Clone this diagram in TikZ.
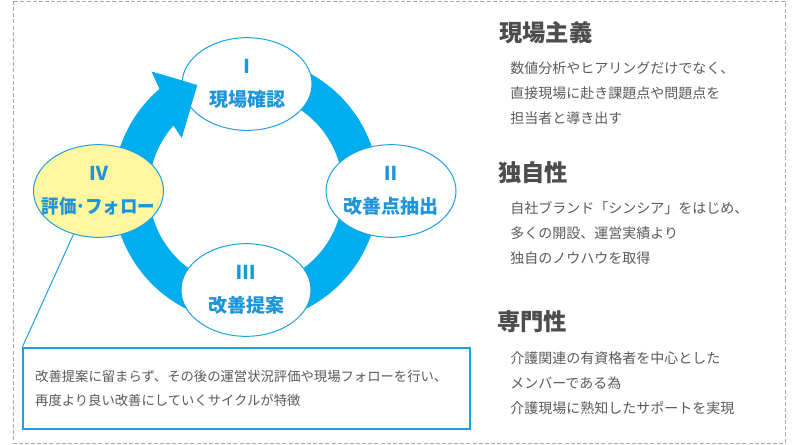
\documentclass[tikz,border=0pt]{standalone}
\usepackage{fontspec}
\setmainfont{Noto Sans CJK JP}
\usetikzlibrary{shapes.geometric,calc}
\definecolor{ringblue}{HTML}{00AEEF}
\definecolor{lineblue}{HTML}{1E9FE3}
\definecolor{txtblue}{HTML}{1D95DB}
\definecolor{pale}{HTML}{FFF6A0}
\definecolor{bodygray}{HTML}{5A5A5A}
\definecolor{headgray}{HTML}{4D4D4D}
\definecolor{dashgray}{HTML}{ABABAB}
\newcommand{\zw}[1]{\makebox[0pt]{#1}}
\tikzset{
  stage/.style={ellipse, draw=lineblue, line width=0.75pt, fill=white,
    minimum width=97.5pt, minimum height=69.5pt, inner sep=0pt,
    text=txtblue, align=center,
    font=\bfseries\fontsize{14.25}{24.5}\selectfont},
  heading/.style={anchor=west, text=headgray, inner sep=0pt,
    font=\bfseries\fontsize{17.5}{20}\selectfont},
  bodytext/.style={anchor=west, text=bodygray, inner sep=0pt, align=left,
    font=\fontsize{10.5}{18.75}\selectfont},
  notebox/.style={draw=lineblue, line width=1.1pt, fill=white,
    minimum width=335.25pt, minimum height=60.75pt, inner sep=0pt,
    text width=317pt, align=left, text=bodygray,
    font=\fontsize{10}{18}\selectfont},
}
\begin{document}
\begin{tikzpicture}[x=0.75pt,y=-0.75pt]
\useasboundingbox (0,0) rectangle (800,444);
\draw[dashgray, line width=0.75pt, dash pattern=on 3pt off 1.6pt] (13,1) rectangle (785,443);
\coordinate (C) at (246,190);
% ring with arrow
\fill[ringblue] ($(C)+(-130.5:133)$) arc[start angle=-130.5, end angle=-440, radius=133]
  -- ($(C)+(-440:97)$) arc[start angle=-440, end angle=-138.3, radius=97]
  -- (181.7,137.7) -- (197.3,85) -- (151.7,71.7) -- cycle;
% stages
\node[stage] (e1) at (247,84) {\zw{Ⅰ}\\\zw{現場確認}};
\node[stage] (e2) at (391,191) {\zw{Ⅱ}\\\zw{改善点抽出}};
\node[stage] (e3) at (246,290) {\zw{Ⅲ}\\\zw{改善提案}};
\node[stage, fill=pale] (e4) at (98.5,191) {\zw{Ⅳ}\\\zw{\scalebox{0.92}[1]{評価･フォロー}}};
% arrow head over stage I
\fill[ringblue] ($(C)+(-130.5:133)$) -- (151.7,71.7) -- (197.3,85) -- (181.7,137.7) -- ($(C)+(-138.3:97)$) -- cycle;
% note box
\node[notebox] (box) at (246.5,388.5) {改善提案に留まらず、その後の運営状況評価や現場フォローを行い、\\再度より良い改善にしていくサイクルが特徴};
\draw[lineblue, line width=0.75pt] (e4.240) -- (box.north west);
% right column
\node[heading] (h1) at (499,33) {現場主義};
\node[bodytext] (p1) at (510,93) {数値分析やヒアリングだけでなく、\\直接現場に赴き課題点や問題点を\\担当者と導き出す};
\node[heading] (h2) at (498,173) {独自性};
\node[bodytext] (p2) at (510,233) {自社ブランド「シンシア」をはじめ、\\多くの開設、運営実績より\\独自のノウハウを取得};
\node[heading] (h3) at (497,322) {専門性};
\node[bodytext] (p3) at (510,383) {介護関連の有資格者を中心とした\\メンバーである為\\介護現場に熟知したサポートを実現};
\end{tikzpicture}
\end{document}
